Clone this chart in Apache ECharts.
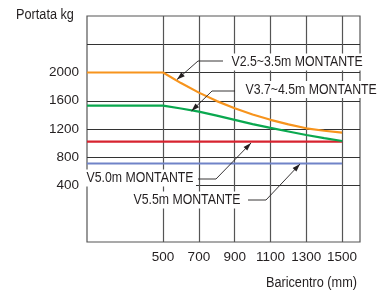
<!DOCTYPE html>
<html>
<head>
<meta charset="utf-8">
<script src="https://cdn.jsdelivr.net/npm/echarts@6/dist/echarts.min.js"></script>
<style>
  html, body { margin: 0; padding: 0; background: #fff; }
  #chart { width: 381px; height: 290px; }
</style>
</head>
<body>
<div id="chart"></div>
<script>
// --- Data ---
const xStart = 75;             // left edge of the plot, curves start flat from here
const baricentro = [500, 600, 700, 800, 900, 1000, 1100, 1200, 1300, 1400, 1500];
const loadV25 = [2000, 1850, 1715, 1595, 1495, 1405, 1330, 1265, 1210, 1175, 1150];
const loadV37 = [1530, 1490, 1445, 1390, 1330, 1270, 1215, 1165, 1115, 1070, 1030];
const loadV50 = 1020;
const loadV55 = 710;

const xTicks = [500, 700, 900, 1100, 1300, 1500];
const yGrid = [400, 800, 1200, 1600, 2000, 2400];
const yLabels = [400, 800, 1200, 1600, 2000];

const names = ['V2.5~3.5m MONTANTE', 'V3.7~4.5m MONTANTE', 'V5.0m MONTANTE', 'V5.5m MONTANTE'];

const FONT = "'Liberation Sans', Arial, sans-serif";
const INK = '#231f20';
const NARROW = 0.82;   // condense factor for the label text

function curve(vals) {
  return [[xStart, vals[0]]].concat(baricentro.map((x, i) => [x, vals[i]]));
}
function flat(v) {
  return [[xStart, v], [baricentro[baricentro.length - 1], v]];
}

// --- Annotations: label + leader line with arrowhead (pixel layout) ---
const notes = [
  { text: names[0], tx: 229, ty: 62, path: [[223, 61], [198, 61], [177, 79.5]] },
  { text: names[1], tx: 243, ty: 89.5, path: [[235, 91], [212, 91], [191.5, 111]] },
  { text: names[2], tx: 84, ty: 178, path: [[198, 179], [216, 179], [251, 143]] },
  { text: names[3], tx: 131, ty: 200, path: [[248, 200], [266, 200], [300, 164]] },
];

function arrowHead(from, tip) {
  const dx = tip[0] - from[0], dy = tip[1] - from[1];
  const len = Math.sqrt(dx * dx + dy * dy);
  const ux = dx / len, uy = dy / len;
  const L = 8, W = 2.6;
  const bx = tip[0] - ux * L, by = tip[1] - uy * L;
  return [tip, [bx - uy * W, by + ux * W], [bx + uy * W, by - ux * W]];
}

const graphics = [];
notes.forEach(n => {
  graphics.push({
    type: 'text', x: n.tx, y: n.ty, scaleX: NARROW, z: 10,
    style: {
      text: n.text, fill: INK, font: '15px ' + FONT, verticalAlign: 'middle',
      backgroundColor: '#fff', padding: [1, 3, 1, 3]
    }
  });
  const p = n.path;
  graphics.push({
    type: 'polyline', z: 11,
    shape: { points: p },
    style: { stroke: INK, lineWidth: 0.9, fill: null }
  });
  graphics.push({
    type: 'polygon', z: 11,
    shape: { points: arrowHead(p[p.length - 2], p[p.length - 1]) },
    style: { fill: INK }
  });
});

graphics.push({
  type: 'text', x: 16, y: 15, scaleX: NARROW,
  style: { text: 'Portata kg', fill: INK, font: '15.5px ' + FONT, verticalAlign: 'middle' }
});
graphics.push({
  type: 'text', x: 357, y: 283, scaleX: NARROW,
  style: { text: 'Baricentro (mm)', fill: INK, font: '15.5px ' + FONT, verticalAlign: 'middle', align: 'right' }
});

const chart = echarts.init(document.getElementById('chart'), null, { renderer: 'canvas' });

chart.setOption({
  backgroundColor: '#fff',
  animation: false,
  grid: {
    left: 87, right: 21, top: 16, bottom: 48,
    show: true, borderColor: '#555', borderWidth: 1.2, backgroundColor: 'transparent'
  },
  xAxis: {
    type: 'value',
    min: xStart,
    max: 1600,
    axisLine: { show: false },
    axisTick: { show: false, customValues: xTicks },
    axisLabel: {
      customValues: xTicks, color: INK, fontSize: 13.5, fontFamily: FONT, margin: 8,
      hideOverlap: false, formatter: v => String(v)
    },
    splitLine: { show: true, lineStyle: { color: '#555', width: 1.2 } }
  },
  yAxis: {
    type: 'value',
    min: -400,
    max: 2800,
    axisLine: { show: false },
    axisTick: { show: false, customValues: yGrid },
    axisLabel: {
      customValues: yLabels, color: INK, fontSize: 13.5, fontFamily: FONT, margin: 8,
      formatter: v => String(v)
    },
    splitLine: { show: true, lineStyle: { color: '#333', width: 1.2 } }
  },
  series: [
    {
      name: names[3], type: 'line', data: flat(loadV55), symbol: 'none',
      lineStyle: { color: '#7083c8', width: 2 }
    },
    {
      name: names[2], type: 'line', data: flat(loadV50), symbol: 'none',
      lineStyle: { color: '#d7232f', width: 2.2 }
    },
    {
      name: names[1], type: 'line', data: curve(loadV37), symbol: 'none',
      lineStyle: { color: '#0aa84f', width: 2.2 }
    },
    {
      name: names[0], type: 'line', data: curve(loadV25), symbol: 'none',
      lineStyle: { color: '#f7941d', width: 2.2 }
    }
  ],
  graphic: graphics
});

window.addEventListener('resize', () => chart.resize());
</script>
</body>
</html>
